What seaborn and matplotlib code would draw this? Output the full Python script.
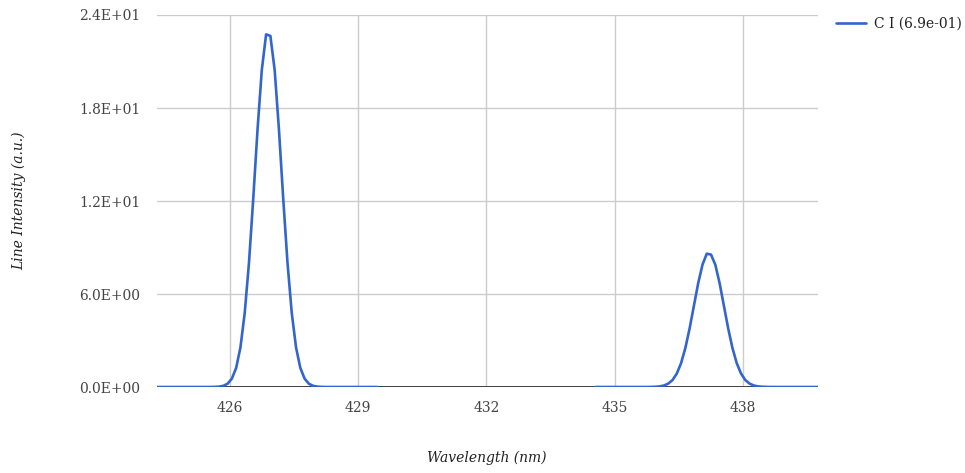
import numpy as np
import pandas as pd
import matplotlib
matplotlib.use("Agg")
import matplotlib.pyplot as plt
import seaborn as sns
from matplotlib.lines import Line2D
from matplotlib.ticker import FuncFormatter

# ---- data ----
series_label = "C I (6.9e-01)"

wavelength_a = [424.25, 424.35, 424.45, 424.55, 424.65, 424.75, 424.85, 424.95, 425.05, 425.15,
                425.25, 425.35, 425.45, 425.55, 425.65, 425.75, 425.85, 425.95, 426.05, 426.15,
                426.25, 426.35, 426.45, 426.55, 426.65, 426.75, 426.85, 426.95, 427.05, 427.15,
                427.25, 427.35, 427.45, 427.55, 427.65, 427.75, 427.85, 427.95, 428.05, 428.15,
                428.25, 428.35, 428.45, 428.55, 428.65, 428.75, 428.85, 428.95, 429.05, 429.15,
                429.25, 429.35, 429.45]
intensity_a = [0, 0, 0, 0, 0, 0, 0, 0, 0, 0,
               0, 0, 0, 0, 0.007, 0.024, 0.074, 0.21, 0.54, 1.23,
               2.55, 4.77, 8.02, 12.16, 16.62, 20.46, 22.75, 22.65, 20.46, 16.62,
               12.16, 8.02, 4.77, 2.55, 1.23, 0.54, 0.21, 0.074, 0.024, 0.007,
               0, 0, 0, 0, 0, 0, 0, 0, 0, 0,
               0, 0, 0]

wavelength_b = [434.55, 434.65, 434.75, 434.85, 434.95, 435.05, 435.15, 435.25, 435.35, 435.45,
                435.55, 435.65, 435.75, 435.85, 435.95, 436.05, 436.15, 436.25, 436.35, 436.45,
                436.55, 436.65, 436.75, 436.85, 436.95, 437.05, 437.15, 437.25, 437.35, 437.45,
                437.55, 437.65, 437.75, 437.85, 437.95, 438.05, 438.15, 438.25, 438.35, 438.45,
                438.55, 438.65, 438.75, 438.85, 438.95, 439.05, 439.15, 439.25, 439.35, 439.45,
                439.55, 439.65, 439.75]
intensity_b = [0, 0, 0, 0, 0, 0, 0, 0, 0, 0,
               0, 0, 0, 0.005, 0.015, 0.039, 0.096, 0.22, 0.45, 0.87,
               1.54, 2.52, 3.79, 5.25, 6.70, 7.89, 8.60, 8.54, 7.89, 6.70,
               5.25, 3.79, 2.52, 1.54, 0.87, 0.45, 0.22, 0.096, 0.039, 0.015,
               0.005, 0, 0, 0, 0, 0, 0, 0, 0, 0,
               0, 0, 0]

x_ticks = [426, 429, 432, 435, 438]
y_ticks = [0, 6, 12, 18, 24]

# ---- build frame ----
df = pd.DataFrame({
    "wavelength": wavelength_a + wavelength_b,
    "intensity": intensity_a + intensity_b,
    "segment": ["a"] * len(wavelength_a) + ["b"] * len(wavelength_b),
})

sns.set_theme(style="white")
plt.rcParams["font.family"] = ["DejaVu Serif"]

fig = plt.figure(figsize=(9.65, 4.73), dpi=100)
ax = fig.add_axes([157 / 965, 1 - 387 / 473, (818 - 157) / 965, (387 - 15) / 473])

line_color = "#3366cc"
ax.axhline(0, color="#333333", lw=1.3, zorder=1)
sns.lineplot(data=df, x="wavelength", y="intensity", units="segment", estimator=None,
             color=line_color, lw=1.9, ax=ax, zorder=3, legend=False)

ax.set_xlim(424.3, 439.75)
ax.set_ylim(0, 24)
ax.set_xticks(x_ticks)
ax.set_yticks(y_ticks)
ax.yaxis.set_major_formatter(FuncFormatter(lambda v, p: f"{v:.1E}"))
ax.grid(True, color="#cccccc", lw=1.0)
ax.set_axisbelow(True)
for s in ax.spines.values():
    s.set_visible(False)
ax.tick_params(axis="both", length=0, labelsize=10, labelcolor="#444444")
ax.tick_params(axis="y", pad=12)
ax.tick_params(axis="x", pad=10)
ax.set_xlabel("")
ax.set_ylabel("")

fig.text(487 / 965, 1 - 458 / 473, "Wavelength (nm)", fontsize=10, style="italic",
         color="#222222", ha="center", va="center")
fig.text(19 / 965, 1 - 201 / 473, "Line Intensity (a.u.)", fontsize=10, style="italic",
         color="#222222", ha="center", va="center", rotation=90)

handle = Line2D([], [], color=line_color, lw=1.9)
fig.legend([handle], [series_label], loc="upper left", bbox_to_anchor=(823 / 965, 1 - 4 / 473),
           frameon=False, fontsize=10, handlelength=2.2, handletextpad=0.6,
           labelcolor="#222222")

fig.savefig("out.png", dpi=100)
